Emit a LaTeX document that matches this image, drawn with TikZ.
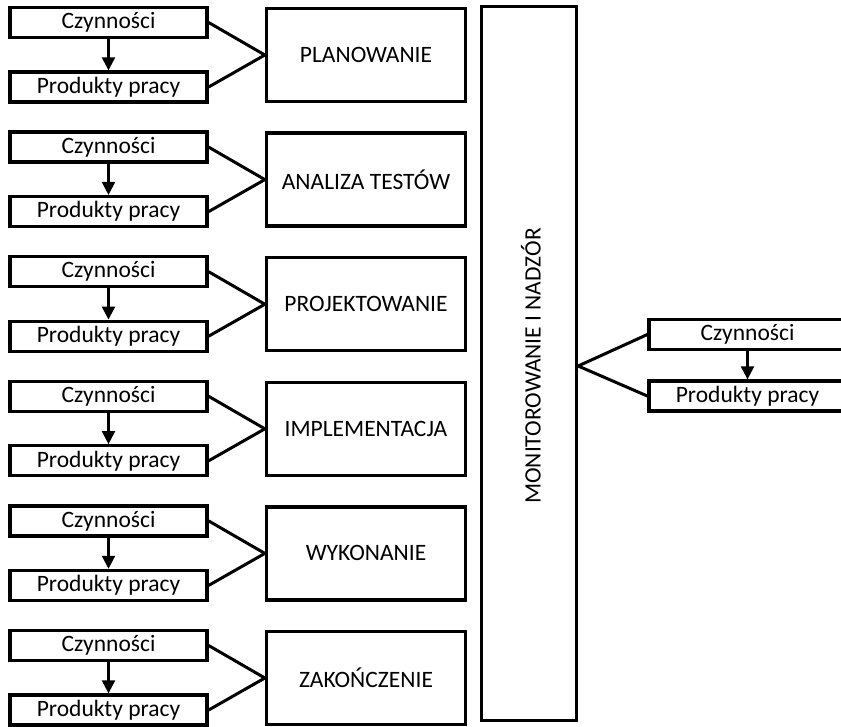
\documentclass[tikz,border=0pt]{standalone}
\usepackage{fontspec}
\setmainfont{Carlito}
\usetikzlibrary{arrows.meta}
\tikzset{
  box/.style={draw, line width=3.3pt, inner sep=0pt, align=center, font=\fontsize{23.5}{27}\selectfont},
  smallbox/.style={box, minimum width=197pt, minimum height=30pt},
  bigbox/.style={box, minimum width=199pt, minimum height=93pt},
  conn/.style={line width=3pt},
  arr/.style={line width=2.2pt, -{Triangle[length=13pt,width=13pt]}}
}
\begin{document}
\begin{tikzpicture}[x=1pt,y=-1pt]
\useasboundingbox (0,0) rectangle (841,726);
\foreach \i/\name in {0/PLANOWANIE,1/ANALIZA TESTÓW,2/PROJEKTOWANIE,3/IMPLEMENTACJA,4/WYKONANIE,5/ZAKOŃCZENIE}{
  \pgfmathsetmacro{\t}{7+124.6*\i}
  \node[smallbox] (czy\i) at (108.5,\t+15.5) {Czynności};
  \node[smallbox] (prod\i) at (108.5,\t+80) {Produkty pracy};
  \node[bigbox] (phase\i) at (366,\t+48) {\name};
  \draw[arr] (czy\i.south) -- (prod\i.north);
  \draw[conn] (czy\i.east) -- (phase\i.west);
  \draw[conn] (prod\i.east) -- (phase\i.west);
}
\node[box, minimum width=95pt, minimum height=714pt] (mon) at (529,363.5) {};
\node[font=\fontsize{23.5}{27}\selectfont, rotate=90, inner sep=0pt] (montext) at (531,366) {MONITOROWANIE I NADZÓR};
\node[smallbox] (rczy) at (747.5,334.5) {Czynności};
\node[smallbox] (rprod) at (747.5,396) {Produkty pracy};
\coordinate (apex) at ([yshift=-2.5pt]mon.east);
\draw[arr] (rczy.south) -- (rprod.north);
\draw[conn] (rczy.west) -- (apex);
\draw[conn] (rprod.west) -- (apex);
\end{tikzpicture}
\end{document}
